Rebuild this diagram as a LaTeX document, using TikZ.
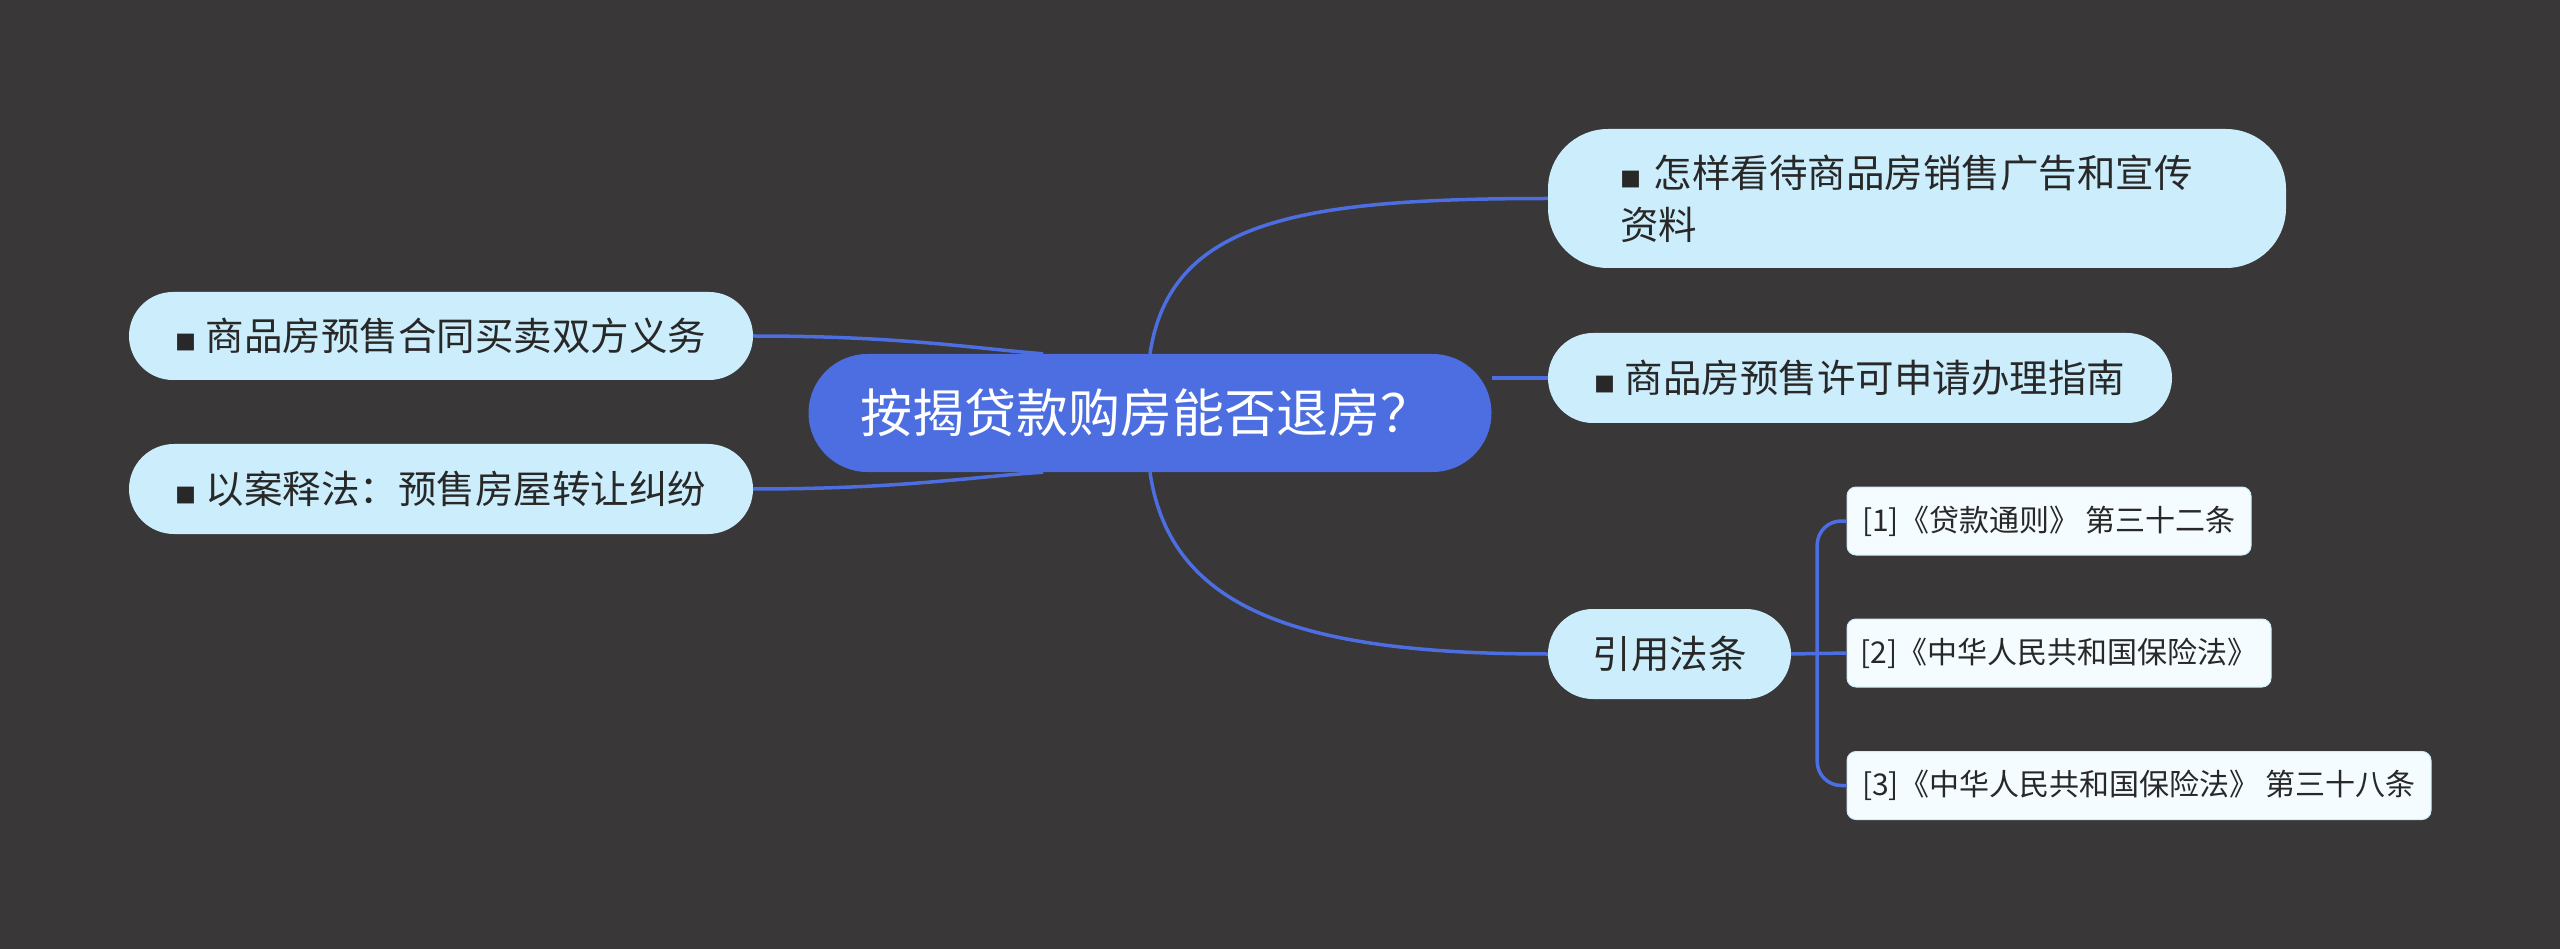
\documentclass[tikz,border=0pt]{standalone}
\usepackage{fontspec}
\setmainfont{Noto Sans CJK SC}

\definecolor{bgdark}{RGB}{57,55,56}
\definecolor{rootblue}{RGB}{76,110,224}
\definecolor{topicblue}{RGB}{204,238,252}
\definecolor{leafwhite}{RGB}{245,252,255}
\definecolor{textdark}{RGB}{40,40,40}

\newcommand{\dianhao}{{\fontsize{21pt}{21pt}\selectfont ■}}

\tikzset{
	rootnode/.style={fill=rootblue, text=white, rounded corners=59pt, minimum width=683pt, minimum height=118pt, inner sep=0pt, font=\fontsize{52pt}{60pt}\selectfont},
	topic/.style={fill=topicblue, text=textdark, rounded corners=45pt, minimum height=90pt, inner sep=0pt, font=\fontsize{38.5pt}{52pt}\selectfont},
	leaf/.style={fill=leafwhite, draw=topicblue, line width=1pt, text=textdark, rounded corners=9pt, minimum height=68pt, inner sep=0pt, font=\fontsize{30pt}{36pt}\selectfont},
	branch/.style={draw=rootblue, line width=3.5pt}
}

\begin{document}
\begin{tikzpicture}[x=1pt,y=-1pt]
	
	% 背景
	\fill[bgdark] (0,0) rectangle (2560,949);
	
	% 中心主题
	\node[rootnode] (tuifang) at (1150,413) {\hspace*{-8pt}按揭贷款购房能否退房？};
	
	% 右侧分支
	\node[topic, minimum width=738pt, minimum height=139pt, rounded corners=60pt, text width=594pt, align=left] (guanggao) at (1917,198.5)
	{
		\dianhao\ 怎样看待商品房销售广告和宣传\\
		资料
	};
	
	\node[topic, minimum width=624pt] (xuke) at (1860,378) {\dianhao\ 商品房预售许可申请办理指南};
	
	\node[topic, minimum width=243pt] (fatiao) at (1669.5,654) {引用法条};
	
	% 左侧分支
	\node[topic, minimum width=624pt, minimum height=88pt, rounded corners=44pt] (yiwu) at (441,336) {\dianhao\ 商品房预售合同买卖双方义务};
	
	\node[topic, minimum width=624pt] (jiufen) at (441,489) {\dianhao\ 以案释法：预售房屋转让纠纷};
	
	% 法条
	\node[leaf, minimum width=404pt] (daikuan) at (2049,521) {[1]《贷款通则》 第三十二条};
	
	\node[leaf, minimum width=424pt] (baoxian) at (2059,653) {[2]《中华人民共和国保险法》};
	
	\node[leaf, minimum width=584pt] (baoxianB) at (2139,785.5) {[3]《中华人民共和国保险法》 第三十八条};
	
	
	% 连线
	\draw[branch] (tuifang.north) .. controls (1170,220) and (1300,198.5) .. (guanggao.west);
	\draw[branch] (xuke.west -| tuifang.east) -- (xuke.west);
	\draw[branch] (tuifang.south) .. controls (1170,610) and (1300,654) .. (fatiao.west);
	
	\draw[branch] (yiwu.east) .. controls (900,336) and (970,348) .. (tuifang.151);
	\draw[branch] (jiufen.east) .. controls (900,489) and (970,477) .. (tuifang.209);
	
	\draw[branch, rounded corners=24pt] (daikuan.west) -| ([xshift=26pt]fatiao.east) |- (baoxianB.west);
	\draw[branch] (fatiao.east) -- (baoxian.west);
	
\end{tikzpicture}
\end{document}
